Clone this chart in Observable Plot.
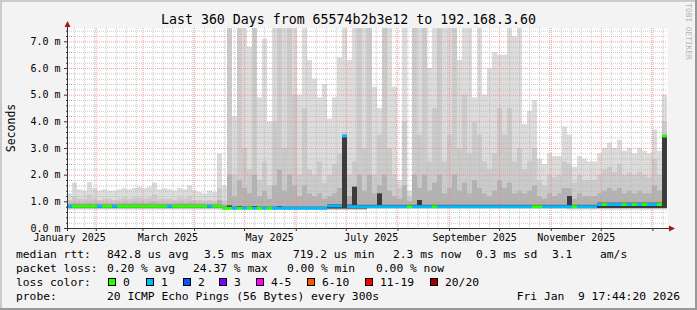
<!DOCTYPE html>
<html><head><meta charset="utf-8">
<script src="https://cdn.jsdelivr.net/npm/d3@7"></script>
<script src="https://cdn.jsdelivr.net/npm/@observablehq/plot@0.6"></script>
<style>html,body{margin:0;padding:0;background:#f3f3f3}svg{display:block}</style>
</head><body><div id="chart"></div>
<script>
// ---------- data ----------
const END = new Date(Date.UTC(2026, 0, 9, 17, 44, 20));
const DAYS = 360;
const STEP = 3; // days per column
const START = new Date(+END - DAYS * 864e5);

// top of light smoke (max ping), ms
const smokeMax = [
 1.30,1.70,1.45,1.40,1.72,1.50,1.40,1.45,1.40,1.40,
 1.45,1.50,1.45,1.50,1.55,1.50,1.55,1.70,1.45,1.50,
 1.45,1.40,1.50,1.45,1.60,1.40,1.35,1.30,1.40,1.35,
 2.80,1.60,7.5,4.2,7.5,7.5,6.8,7.5,4.9,7.1,
 4.0,7.5,7.5,7.5,7.5,7.5,5.0,7.5,6.3,5.6,
 4.9,5.4,4.1,4.9,6.4,7.5,6.3,7.5,7.5,7.5,
 7.5,5.3,4.5,7.5,7.5,5.3,1.8,7.5,1.4,7.5,
 7.5,7.5,6.0,7.5,7.5,7.5,7.5,7.5,6.3,7.5,
 7.5,4.9,7.5,5.0,6.0,6.6,6.5,6.5,7.5,7.2,
 7.5,3.9,4.4,4.8,2.6,2.4,2.8,2.7,2.7,3.8,
 3.5,2.3,2.7,2.6,2.5,2.5,2.8,3.0,3.2,3.0,
 3.3,2.9,3.0,2.8,3.0,2.9,2.8,3.7,2.9,5.0];
// medium smoke top
const smokeHigh = [
 1.05,1.20,1.10,1.10,1.25,1.10,1.05,1.10,1.10,1.05,
 1.10,1.15,1.10,1.15,1.15,1.10,1.15,1.25,1.10,1.10,
 1.10,1.05,1.15,1.10,1.20,1.05,1.05,1.00,1.05,1.00,
 1.5,1.0,7.5,2.0,7.5,3.0,2.2,7.5,1.8,2.5,
 1.6,4.0,7.5,3.0,7.5,5.0,2.0,4.5,2.2,2.0,
 2.5,1.7,2.0,2.4,2.8,3.6,2.0,2.5,7.5,3.0,
 7.5,2.0,3.5,7.5,3.0,2.0,1.5,4.0,1.2,7.5,
 3.5,7.5,2.5,4.5,7.5,2.5,3.5,7.5,3.0,5.0,
 2.8,4.0,3.5,2.5,2.2,2.8,4.5,3.5,4.5,2.5,
 3.0,2.2,2.5,3.0,1.8,1.6,2.0,1.9,2.0,2.5,
 2.4,1.7,2.0,1.8,1.8,1.8,2.0,2.2,2.3,2.1,
 2.4,2.0,2.1,2.0,2.1,2.0,1.9,2.6,2.0,4.0];
// darker smoke top
const smokeMid = [
 0.93,0.95,0.93,0.93,0.95,0.93,0.93,0.93,0.93,0.93,
 0.93,0.95,0.93,0.95,0.95,0.93,0.95,0.97,0.93,0.93,
 0.93,0.93,0.95,0.93,0.95,0.93,0.93,0.92,0.92,0.92,
 1.05,0.9,2.0,1.2,1.8,1.5,1.3,2.0,1.2,1.4,
 1.1,1.6,2.2,1.4,2.0,1.6,1.2,1.6,1.3,1.2,
 1.3,1.1,1.2,1.3,1.5,1.8,1.2,1.4,2.0,1.4,
 2.0,1.3,1.6,2.0,1.4,1.2,1.1,1.6,1.0,2.0,
 1.5,2.0,1.4,1.7,2.0,1.3,1.5,2.0,1.4,1.7,
 1.3,1.8,1.5,1.3,1.2,1.4,1.8,1.5,1.7,1.3,
 1.4,1.3,1.4,1.6,1.2,1.1,1.3,1.2,1.3,1.5,
 1.5,1.1,1.3,1.2,1.2,1.2,1.3,1.4,1.5,1.4,
 1.5,1.3,1.4,1.3,1.4,1.3,1.3,1.6,1.4,3.5];
// darkest smoke top (pings closest to the median)
const smokeDark = [
 0.87,0.87,0.87,0.87,0.87,0.87,0.87,0.87,0.87,0.87,
 0.87,0.87,0.87,0.87,0.87,0.87,0.87,0.87,0.87,0.87,
 0.87,0.87,0.87,0.87,0.87,0.87,0.87,0.87,0.87,0.87,
 0.87,0.80,0.85,0.80,0.82,0.80,0.80,0.82,0.80,0.80,
 0.80,0.80,0.82,0.80,0.80,0.80,0.80,0.80,0.80,0.80,
 0.80,0.80,0.89,0.89,0.89,3.45,0.88,1.55,0.87,0.87,
 0.87,0.87,1.30,0.87,0.87,0.87,0.87,0.87,0.87,0.87,
 1.05,0.87,0.87,0.87,0.87,0.87,0.87,0.87,0.87,0.87,
 0.87,0.87,0.87,0.87,0.87,0.87,0.87,0.87,0.87,0.87,
 0.87,0.87,0.87,0.87,0.87,0.87,0.87,0.87,0.87,0.87,
 1.20,0.87,0.87,0.87,0.87,0.87,0.95,0.95,0.95,0.95,
 0.95,0.95,0.95,0.95,0.95,0.95,0.95,0.95,0.95,3.45];
// median rtt, ms
const median = [
 0.81,0.81,0.81,0.81,0.81,0.81,0.81,0.81,0.81,0.81,
 0.81,0.81,0.81,0.81,0.81,0.81,0.81,0.81,0.81,0.81,
 0.81,0.81,0.81,0.81,0.81,0.81,0.81,0.81,0.81,0.81,
 0.81,0.74,0.74,0.74,0.74,0.74,0.74,0.74,0.74,0.74,
 0.74,0.74,0.74,0.74,0.74,0.74,0.74,0.74,0.74,0.74,
 0.74,0.74,0.83,0.83,0.83,3.45,0.80,0.80,0.80,0.80,
 0.80,0.80,0.80,0.80,0.80,0.80,0.80,0.80,0.80,0.80,
 0.80,0.80,0.80,0.80,0.80,0.80,0.80,0.80,0.80,0.80,
 0.80,0.80,0.80,0.80,0.80,0.80,0.80,0.80,0.80,0.80,
 0.80,0.80,0.80,0.80,0.80,0.80,0.80,0.80,0.80,0.80,
 0.80,0.80,0.80,0.80,0.80,0.80,0.88,0.88,0.88,0.88,
 0.88,0.88,0.88,0.88,0.88,0.88,0.88,0.88,0.88,3.45];
// loss class per column (index into lossColors)
const loss = [
 1,0,0,0,0,0,1,0,0,1,
 0,0,0,0,0,0,0,0,0,0,
 1,0,0,0,0,0,0,0,1,0,
 0,0,0,1,0,1,0,1,0,1,
 0,1,1,1,1,1,1,1,1,1,
 1,1,1,1,1,1,1,1,1,1,
 1,1,1,1,1,1,1,1,0,1,
 1,1,1,0,1,1,1,1,1,1,
 1,1,1,1,1,1,1,1,1,1,
 1,1,1,0,0,1,1,1,1,1,
 1,0,1,1,1,1,1,0,1,1,
 1,0,1,0,1,0,1,1,0,0];
// lower edge of the smoke, per 30-day block
const smokeMin = [0.70,0.70,0.70,0.70,0.68,0.68,0.72,0.72,0.72,0.72,0.70,0.70];

const lossColors = ["#26ff00","#00b8ff","#0059ff","#7e00ff","#ff00ff","#ff5500","#ff0000","#a00000"];
const lossLabels = ["0","1","2","3","4-5","6-10","11-19","20/20"];
const yTicks = [0,1,2,3,4,5,6,7];
const xLabels = ["January 2025","March 2025","May 2025","July 2025","September 2025","November 2025"];
const title = "Last 360 Days from 65574b2b3e12 to 192.168.3.60";
const yLabel = "Seconds";
const rttTexts = ["median rtt:","842.8 us avg","3.5 ms max","719.2 us min","2.3 ms now","0.3 ms sd","3.1","am/s"];
const lossTexts = ["packet loss:","0.20 % avg","24.37 % max","0.00 % min","0.00 % now"];
const colorTitle = "loss color:";
const probeTexts = ["probe:","20 ICMP Echo Pings (56 Bytes) every 300s"];
const stamp = "Fri Jan  9 17:44:20 2026";
const watermark = "RRDTOOL / TOBI OETIKER";

// ---------- layout ----------
const W = 697, H = 310, L = 67, R = 667, T = 28, B = 228;
const MONO = "DejaVu Sans Mono";
const day = 864e5;
const cols = smokeMax.map((_, i) => ({
  i,
  t0: new Date(+START + i * STEP * day),
  t1: new Date(+START + (i + 1) * STEP * day)
}));
const lo = d => smokeMin[Math.floor(d.i / 10)];

const majorX = d3.utcMonth.range(START, END);
const minorX = d3.utcDay.every(6).range(START, END).filter(d => d.getUTCDate() !== 1);
const minorY = d3.range(1, 38).map(k => k * 0.2).filter(v => Math.abs(v - Math.round(v)) > 1e-6);
const labelDates = xLabels.map(s => {
  const dt = d3.utcParse("%B %Y")(s);
  return new Date(+dt + 15 * day);
});

const dash = "1,1";
const chart = Plot.plot({
  width: W, height: H,
  marginLeft: L, marginRight: W - R, marginTop: T, marginBottom: H - B,
  style: {background: "#f3f3f3", fontFamily: MONO, fontSize: "10px", color: "#000", overflow: "visible"},
  x: {type: "utc", domain: [START, END], axis: null},
  y: {domain: [0, 7.5], axis: null},
  marks: [
    Plot.frame({fill: "#ffffff", stroke: null}),
    Plot.rect(cols, {x1: "t0", x2: "t1", y1: lo, y2: d => smokeMax[d.i], fill: "#dcdcdc"}),
    Plot.rect(cols, {x1: "t0", x2: "t1", y1: lo, y2: d => smokeHigh[d.i], fill: "#cbcbcb"}),
    Plot.rect(cols, {x1: "t0", x2: "t1", y1: d => lo(d) + 0.04, y2: d => smokeMid[d.i], fill: "#b2b2b2"}),
    // grid
    Plot.ruleY(minorY, {stroke: "#b8b8b8", strokeOpacity: 0.8, strokeDasharray: dash}),
    Plot.ruleX(minorX, {stroke: "#b8b8b8", strokeOpacity: 0.8, strokeDasharray: dash}),
    Plot.ruleY(yTicks.slice(1), {stroke: "#ff7f7f", strokeOpacity: 0.8, strokeDasharray: dash}),
    Plot.ruleX(majorX, {stroke: "#ff7f7f", strokeOpacity: 0.8, strokeDasharray: dash}),
    // near-median smoke and median
    Plot.rect(cols, {x1: "t0", x2: "t1", y1: d => lo(d) + 0.05, y2: d => smokeDark[d.i], fill: "#3c3c3c"}),
    Plot.rect(cols, {x1: "t0", x2: "t1", y1: d => median[d.i] - 0.055, y2: d => median[d.i] + 0.055, fill: d => lossColors[loss[d.i]]}),
    // y axis labels and ticks
    Plot.axisY({ticks: yTicks, tickSize: 3, tickPadding: 4, tickFormat: d => d.toFixed(1) + " m", fontSize: 10, fontFamily: MONO, stroke: "#333"}),
    Plot.axisY({ticks: minorY, tickSize: 1, tickFormat: () => "", stroke: "#333"}),
    // x axis ticks and labels
    Plot.axisX({ticks: majorX, tickSize: 3, tickFormat: () => "", stroke: "#333", anchor: "bottom"}),
    Plot.axisX({ticks: minorX, tickSize: 1, tickFormat: () => "", stroke: "#333", anchor: "bottom"}),
    Plot.text(labelDates, {x: d => d, text: (d, i) => xLabels[i], frameAnchor: "bottom", dy: 12, fontSize: 10, fontFamily: MONO, fill: "#000"})
  ]
});

const svg = d3.select(chart);
const xs = chart.scale("x"), ys = chart.scale("y");
const x0 = xs.apply(START), x1 = xs.apply(END), y0 = ys.apply(0), yTop = ys.apply(7.5);
// axes
svg.append("line").attr("x1", x0 + 0.5).attr("x2", x0 + 0.5).attr("y1", y0 + 3).attr("y2", yTop - 6).attr("stroke", "#333");
svg.append("line").attr("x1", x0 - 3).attr("x2", x1 + 3).attr("y1", y0 + 0.5).attr("y2", y0 + 0.5).attr("stroke", "#333");
svg.append("path").attr("d", `M${x0 + 0.5 - 3},${yTop - 1} L${x0 + 0.5 + 3},${yTop - 1} L${x0 + 0.5},${yTop - 7} Z`).attr("fill", "#a01818");
svg.append("path").attr("d", `M${x1 + 2},${y0 + 0.5 - 3} L${x1 + 2},${y0 + 0.5 + 3} L${x1 + 8},${y0 + 0.5} Z`).attr("fill", "#a01818");

// frame shading
svg.append("rect").attr("x", 0).attr("y", 0).attr("width", W).attr("height", 2).attr("fill", "#cbcbcb");
svg.append("rect").attr("x", 0).attr("y", 0).attr("width", 2).attr("height", H).attr("fill", "#cbcbcb");
svg.append("rect").attr("x", W - 2).attr("y", 0).attr("width", 2).attr("height", H).attr("fill", "#999999");
svg.append("rect").attr("x", 0).attr("y", H - 2).attr("width", W).attr("height", 2).attr("fill", "#999999");

const txt = (s, x, y, size, anchor = "start") => svg.append("text")
  .attr("x", x).attr("y", y).attr("font-family", MONO).attr("font-size", size)
  .attr("text-anchor", anchor).attr("fill", "#000").attr("xml:space", "preserve")
  .style("white-space", "pre").text(s);

txt(title, W / 2, 24, 13.25, "middle");
svg.append("text").attr("transform", `translate(15,${(T + B) / 2}) rotate(-90)`)
  .attr("text-anchor", "middle").attr("font-family", MONO).attr("font-size", 11.5).attr("fill", "#000").text(yLabel);
svg.append("text").attr("x", 688).attr("y", 8)
  .style("writing-mode", "vertical-rl")
  .attr("font-family", MONO).attr("font-size", 7.8).attr("fill", "#b4b4b4").text(watermark);

const FS = 11.3;
const rttX = [16, 107, 204, 293, 393, 476, 552, 600];
rttTexts.forEach((s, i) => txt(s, rttX[i], 258, FS));
const lossX = [16, 107, 193, 287, 376];
lossTexts.forEach((s, i) => txt(s, lossX[i], 272, FS));
txt(colorTitle, 16, 286, FS);
const boxX = [108, 146, 183, 219, 256, 307, 365, 430];
lossLabels.forEach((s, i) => {
  svg.append("rect").attr("x", boxX[i] + 0.5).attr("y", 278.5).attr("width", 7).attr("height", 7)
    .attr("fill", lossColors[i]).attr("stroke", "#000");
  txt(s, boxX[i] + 15, 286, FS);
});
txt(probeTexts[0], 16, 300, FS);
txt(probeTexts[1], 107, 300, FS);
txt(stamp, 680, 300, FS, "end");

document.getElementById("chart").appendChild(chart);
</script>
</body></html>
